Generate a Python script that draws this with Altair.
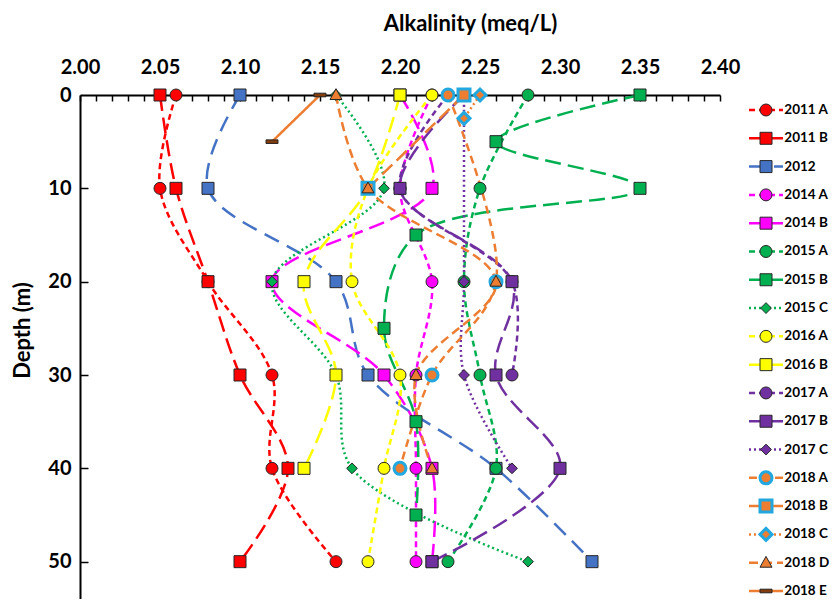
import altair as alt
import pandas as pd

# ---- profiles: alkalinity (meq/L) against depth (m) ----
SERIES = ["2011 A", "2011 B", "2012", "2014 A", "2014 B", "2015 A", "2015 B",
          "2015 C", "2016 A", "2016 B", "2017 A", "2017 B", "2017 C",
          "2018 A", "2018 B", "2018 C", "2018 D", "2018 E"]

DEPTH_FULL = [0, 10, 20, 30, 40, 50]

ALK_2011A = [2.06, 2.05, 2.08, 2.12, 2.12, 2.16]
ALK_2011B = [2.05, 2.06, 2.08, 2.10, 2.13, 2.10]
ALK_2012 = [2.10, 2.08, 2.16, 2.18, 2.26, 2.32]
ALK_2014A = [2.22, 2.20, 2.22, 2.21, 2.21, 2.21]
ALK_2014B = [2.20, 2.22, 2.12, 2.19, 2.22, 2.22]
ALK_2015A = [2.28, 2.25, 2.24, 2.25, 2.26, 2.23]
DEPTH_2015B = [0, 5, 10, 15, 25, 35, 45]
ALK_2015B = [2.35, 2.26, 2.35, 2.21, 2.19, 2.21, 2.21]
ALK_2015C = [2.16, 2.19, 2.12, 2.16, 2.17, 2.28]
ALK_2016A = [2.22, 2.18, 2.17, 2.20, 2.19, 2.18]
DEPTH_2016B = [0, 10, 20, 30, 40]
ALK_2016B = [2.20, 2.18, 2.14, 2.16, 2.14]
DEPTH_2017A = [0, 10, 20, 30]
ALK_2017A = [2.23, 2.20, 2.27, 2.27]
ALK_2017B = [2.24, 2.20, 2.27, 2.26, 2.30, 2.22]
DEPTH_2017C = [0, 20, 30, 40]
ALK_2017C = [2.24, 2.24, 2.24, 2.27]
DEPTH_2018A = [0, 20, 30, 40]
ALK_2018A = [2.23, 2.26, 2.22, 2.20]
DEPTH_2018B = [0, 10]
ALK_2018B = [2.24, 2.18]
DEPTH_2018C = [0, 2.5]
ALK_2018C = [2.25, 2.24]
DEPTH_2018D = [0, 10, 20, 30, 40]
ALK_2018D = [2.16, 2.18, 2.26, 2.21, 2.22]
DEPTH_2018E = [0, 5]
ALK_2018E = [2.15, 2.12]

PROFILES = [
    (DEPTH_FULL, ALK_2011A), (DEPTH_FULL, ALK_2011B), (DEPTH_FULL, ALK_2012),
    (DEPTH_FULL, ALK_2014A), (DEPTH_FULL, ALK_2014B), (DEPTH_FULL, ALK_2015A),
    (DEPTH_2015B, ALK_2015B), (DEPTH_FULL, ALK_2015C), (DEPTH_FULL, ALK_2016A),
    (DEPTH_2016B, ALK_2016B), (DEPTH_2017A, ALK_2017A), (DEPTH_FULL, ALK_2017B),
    (DEPTH_2017C, ALK_2017C), (DEPTH_2018A, ALK_2018A), (DEPTH_2018B, ALK_2018B),
    (DEPTH_2018C, ALK_2018C), (DEPTH_2018D, ALK_2018D), (DEPTH_2018E, ALK_2018E),
]

X_MAJOR = [2.00, 2.05, 2.10, 2.15, 2.20, 2.25, 2.30, 2.35, 2.40]
X_MINOR = [round(2.00 + 0.01 * i, 2) for i in range(41)]
Y_TICKS = [0, 10, 20, 30, 40, 50]

rows = []
for i, (name, (dep, alk)) in enumerate(zip(SERIES, PROFILES)):
    for d, v in zip(dep, alk):
        rows.append({"series": name, "idx": i, "depth": d, "alk": v})
df = pd.DataFrame(rows)
leg_df = pd.DataFrame({"series": SERIES, "idx": list(range(len(SERIES)))})

# ---- styling ----
FONT = "Lato"
RED, BLUE, MAGENTA, GREEN = "#FF0000", "#4472C4", "#FF00FF", "#00B050"
YELLOW, PURPLE, ORANGE = "#FFFF00", "#7030A0", "#ED7D31"
CYAN, BROWN, EDGE = "#22A8E0", "#843C0C", "#262626"

LINE_COLORS = [RED, RED, BLUE, MAGENTA, MAGENTA, GREEN, GREEN, GREEN, YELLOW,
               YELLOW, PURPLE, PURPLE, PURPLE, ORANGE, ORANGE, ORANGE, ORANGE, ORANGE]
FILL_COLORS = LINE_COLORS[:-1] + [BROWN]

SHORT, LONG, DOT, SOLID = [6, 4], [16, 7], [2, 3], [1, 0]
DASHES = [SHORT, LONG, [16, 9], SHORT, LONG, SHORT, LONG, DOT, SHORT, LONG,
          SHORT, LONG, DOT, [8, 5], [14, 6], DOT, [9, 5], SOLID]

DIAMOND = "M-0.9,0L0,-0.9L0.9,0L0,0.9Z"
DIAMOND_L = "M-1,0L0,-1L1,0L0,1Z"
TRIANGLE = "M0,-1.05L1,0.75L-1,0.75Z"
BAR = "M-1,-0.3L1,-0.3L1,0.3L-1,0.3Z"
SHAPES = ["circle", "square", "square", "circle", "square", "circle", "square",
          DIAMOND, "circle", "square", "circle", "square", DIAMOND,
          "circle", "square", DIAMOND_L, TRIANGLE, BAR]

COLOR = alt.Scale(domain=SERIES, range=LINE_COLORS)
FILL = alt.Scale(domain=SERIES, range=FILL_COLORS)
DASH = alt.Scale(domain=SERIES, range=DASHES)
SHAPE = alt.Scale(domain=SERIES, range=SHAPES)

W, H = 640, 504
XS = alt.Scale(domain=[2.0, 2.4], nice=False, zero=False)
YS = alt.Scale(domain=[0, 54], reverse=True, nice=False, zero=False)

lab = dict(labelFont=FONT, labelFontSize=20, labelFontWeight="bold",
           labelColor="black", labelFlush=False, labelOverlap=False)
ttl = dict(titleFont=FONT, titleFontSize=22, titleFontWeight="bold",
           titleColor="black")

x_axis = alt.Axis(orient="top", values=X_MAJOR, format=".2f",
                  title="Alkalinity (meq/L)", ticks=False, tickSize=0,
                  labelPadding=22, labelBaseline="alphabetic",
                  domainColor="black", domainWidth=2, grid=False,
                  titleX=390, titleY=-65, titleBaseline="alphabetic",
                  titleAlign="center", **lab, **ttl)
y_axis = alt.Axis(orient="left", values=Y_TICKS, title="Depth (m)",
                  ticks=False, tickSize=0, labelPadding=9,
                  domainColor="black", domainWidth=2, grid=False,
                  titleX=-58, titleY=235, titleBaseline="middle",
                  titleAlign="center", titleAngle=-90, **lab, **ttl)
# tick-only axes that sit on the plot edges with ticks pointing inward
x_ticks = alt.Axis(orient="bottom", offset=-H, values=X_MINOR, labels=False,
                   domain=False, tickSize=6, tickWidth=1.5, tickColor="black",
                   title=None, grid=False)
y_ticks = alt.Axis(orient="right", offset=-W, values=Y_TICKS[1:], labels=False,
                   domain=False, tickSize=8, tickWidth=1.5, tickColor="black",
                   title=None, grid=False)

base = alt.Chart(df)

lines = base.mark_line(interpolate="catmull-rom", strokeWidth=2.5).encode(
    x=alt.X("alk:Q", scale=XS, axis=x_axis),
    y=alt.Y("depth:Q", scale=YS, axis=y_axis),
    color=alt.Color("series:N", scale=COLOR, legend=None),
    strokeDash=alt.StrokeDash("series:N", scale=DASH, legend=None),
    order=alt.Order("depth:Q"),
)


def markers(data, x_ax, y_ax, stroke, width, xenc=None, yenc=None):
    return data.mark_point(filled=True, size=144, opacity=1, stroke=stroke,
                           strokeWidth=width).encode(
        x=xenc if xenc is not None else alt.X("alk:Q", scale=XS, axis=x_ax),
        y=yenc if yenc is not None else alt.Y("depth:Q", scale=YS, axis=y_ax),
        fill=alt.Fill("series:N", scale=FILL, legend=None),
        shape=alt.Shape("series:N", scale=SHAPE, legend=None),
        order=alt.Order("idx:Q"),
    )


early = alt.FieldLTPredicate(field="idx", lt=13)
ringed = alt.FieldRangePredicate(field="idx", range=[13, 15])
late = alt.FieldGTPredicate(field="idx", gt=15)

pts_a = markers(base.transform_filter(early), x_ticks, y_ticks, EDGE, 1)
pts_b = markers(base.transform_filter(ringed), None, None, CYAN, 3)
pts_c = markers(base.transform_filter(late), None, None, EDGE, 1)

plot = alt.layer(lines, pts_a, pts_b, pts_c).resolve_axis(
    x="independent", y="independent")

# ---- key on the right ----
LX = alt.Scale(domain=[0, 1], range=[669, 703])
LY = alt.Y("series:N", axis=None,
           scale=alt.Scale(type="point", domain=SERIES, range=[15, 496], padding=0))
lbase = alt.Chart(leg_df)

leg_lines = lbase.mark_rule(strokeWidth=2.5).encode(
    x=alt.XDatum(0, type="quantitative", scale=LX, axis=None),
    x2=alt.X2Datum(1),
    y=LY,
    color=alt.Color("series:N", scale=COLOR, legend=None),
    strokeDash=alt.StrokeDash("series:N", scale=DASH, legend=None),
)
lx_mark = alt.XDatum(0.5, type="quantitative", scale=LX, axis=None)
leg_a = markers(lbase.transform_filter(early), None, None, EDGE, 1, lx_mark, LY)
leg_b = markers(lbase.transform_filter(ringed), None, None, CYAN, 3, lx_mark, LY)
leg_c = markers(lbase.transform_filter(late), None, None, EDGE, 1, lx_mark, LY)
leg_text = lbase.mark_text(align="left", baseline="middle", font=FONT,
                           fontSize=13.5, fontWeight="bold", color="black").encode(
    x=alt.XDatum(1.04, type="quantitative", scale=LX, axis=None),
    y=LY,
    text="series:N",
)
key = alt.layer(leg_lines, leg_a, leg_b, leg_c, leg_text)

chart = alt.layer(plot, key).resolve_scale(
    x="independent", y="independent"
).properties(
    width=W, height=H, autosize="none",
    padding={"left": 80, "top": 95, "right": 112, "bottom": 0},
    background="white",
).configure_view(strokeWidth=0)

chart.save("out.html", embed_options={"renderer": "svg", "actions": False})
